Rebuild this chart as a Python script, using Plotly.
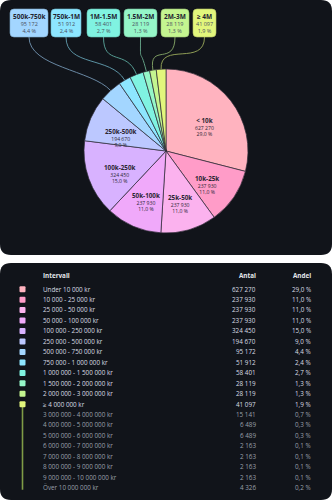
import math
import plotly.graph_objects as go

W, H = 332, 500

# ---------------- data ----------------
slice_labels = ["&lt; 10k", "10k-25k", "25k-50k", "50k-100k", "100k-250k", "250k-500k",
                "500k-750k", "750k-1M", "1M-1.5M", "1.5M-2M", "2M-3M", "≥ 4M"]
slice_values = [627270, 237930, 237930, 237930, 324450, 194670,
                95172, 51912, 58401, 28119, 28119, 41097]
slice_colors = ["#ffb3bf", "#ff9cc8", "#fbb2ee", "#f0a9fa", "#d8b2ff", "#bcc8ff",
                "#a3d6ff", "#8de6ff", "#80f3e1", "#95f6c8", "#c4f590", "#e2f67c"]
# slices labelled inside the pie vs. in call-out boxes
inside_count = 6

table_intervals = ["Under 10 000 kr", "10 000 - 25 000 kr", "25 000 - 50 000 kr",
                   "50 000 - 100 000 kr", "100 000 - 250 000 kr", "250 000 - 500 000 kr",
                   "500 000 - 750 000 kr", "750 000 - 1 000 000 kr", "1 000 000 - 1 500 000 kr",
                   "1 500 000 - 2 000 000 kr", "2 000 000 - 3 000 000 kr", "≥ 4 000 000 kr",
                   "3 000 000 - 4 000 000 kr", "4 000 000 - 5 000 000 kr", "5 000 000 - 6 000 000 kr",
                   "6 000 000 - 7 000 000 kr", "7 000 000 - 8 000 000 kr", "8 000 000 - 9 000 000 kr",
                   "9 000 000 - 10 000 000 kr", "Över 10 000 000 kr"]
table_counts = [627270, 237930, 237930, 237930, 324450, 194670, 95172, 51912, 58401,
                28119, 28119, 41097, 15141, 6489, 6489, 2163, 2163, 2163, 2163, 4326]
table_shares = [29.0, 11.0, 11.0, 11.0, 15.0, 9.0, 4.4, 2.4, 2.7, 1.3, 1.3, 1.9,
                0.7, 0.3, 0.3, 0.1, 0.1, 0.1, 0.1, 0.2]
table_headers = ["Intervall", "Antal", "Andel"]
sub_start = 12  # rows from here on are sub-rows of "≥ 4 000 000 kr"

# ---------------- helpers ----------------
FONT = "Open Sans"


def px(x):
    return x / W


def py(y):
    return 1 - y / H


def fmt_int(v):
    return f"{v:,}".replace(",", " ")


def fmt_pct(p):
    return f"{p:.1f}".replace(".", ",") + " %"


def rrect(x0, y0, x1, y1, r):
    pts = [
        f"M {px(x0 + r)},{py(y0)}",
        f"L {px(x1 - r)},{py(y0)}",
        f"Q {px(x1)},{py(y0)} {px(x1)},{py(y0 + r)}",
        f"L {px(x1)},{py(y1 - r)}",
        f"Q {px(x1)},{py(y1)} {px(x1 - r)},{py(y1)}",
        f"L {px(x0 + r)},{py(y1)}",
        f"Q {px(x0)},{py(y1)} {px(x0)},{py(y1 - r)}",
        f"L {px(x0)},{py(y0 + r)}",
        f"Q {px(x0)},{py(y0)} {px(x0 + r)},{py(y0)}",
        "Z",
    ]
    return " ".join(pts)


def mix(hex_color, bg, a):
    c = [int(hex_color[i:i + 2], 16) for i in (1, 3, 5)]
    b = [int(bg[i:i + 2], 16) for i in (1, 3, 5)]
    m = [round(a * c[k] + (1 - a) * b[k]) for k in range(3)]
    return "#%02x%02x%02x" % tuple(m)


CARD = "#11141a"
total = sum(slice_values)

# ---------------- pie ----------------
cx, cy, R = 166, 151, 82

fig = go.Figure()
fig.add_trace(go.Pie(
    labels=slice_labels, values=slice_values, textinfo="none",
    marker=dict(colors=slice_colors, line=dict(color="#2e2b36", width=0.7)),
    sort=False, direction="clockwise", rotation=0, hoverinfo="skip",
    showlegend=False,
    domain=dict(x=[px(cx - R), px(cx + R)], y=[py(cy + R), py(cy - R)]),
))

shapes = []
annotations = []

# cards
shapes.append(dict(type="path", path=rrect(0, 0, W, 255, 11), xref="paper", yref="paper",
                   fillcolor=CARD, line=dict(width=0), layer="below"))
shapes.append(dict(type="path", path=rrect(0, 263, W, H, 11), xref="paper", yref="paper",
                   fillcolor=CARD, line=dict(width=0), layer="below"))

cum = 0
starts = []
for v in slice_values:
    starts.append(cum)
    cum += v


def mid_angle(i):
    return 2 * math.pi * (starts[i] + slice_values[i] / 2) / total


def block(lab, v, big, sub_color=None):
    st = f" style='color:{sub_color}'" if sub_color else ""
    return (f"<b><span style='font-size:{big}px'>{lab}</span></b><br>"
            f"<span{st}>{fmt_int(v)}</span><br><span{st}>{fmt_pct(100 * v / total)}</span>")


# labels inside the pie
for i in range(inside_count):
    a = mid_angle(i)
    lx = cx + 0.6 * R * math.sin(a)
    ly = cy - 0.6 * R * math.cos(a)
    annotations.append(dict(x=px(lx), y=py(ly + 5.6), xref="paper", yref="paper", showarrow=False,
                            text=block(slice_labels[i], slice_values[i], 6.3), xanchor="center",
                            yanchor="middle", align="center", borderpad=0,
                            font=dict(family=FONT, size=5.1, color="#2b2633")))

# call-out boxes
box_lefts = [10, 51, 87, 124, 161, 193]
box_widths = [38, 30, 33, 33, 28, 23]
box_top, box_bot = 9, 37
for k in range(len(slice_values) - inside_count):
    i = inside_count + k
    x0 = box_lefts[k]
    x1 = x0 + box_widths[k]
    bx = (x0 + x1) / 2
    col = slice_colors[i]
    a = mid_angle(i)
    ex = cx + R * math.sin(a)
    ey = cy - R * math.cos(a)
    ox, oy = math.sin(a), -math.cos(a)
    path = (f"M {px(bx)},{py(box_bot)} C {px(bx)},{py(box_bot + 30)} "
            f"{px(ex + ox * 28)},{py(ey + oy * 28)} {px(ex)},{py(ey)}")
    shapes.append(dict(type="path", path=path, xref="paper", yref="paper",
                       line=dict(color=mix(col, CARD, 0.6), width=1)))
    shapes.append(dict(type="path", path=rrect(x0, box_top, x1, box_bot, 4), xref="paper",
                       yref="paper", fillcolor=col, line=dict(color=mix(col, "#000000", 0.8), width=0.6)))
    annotations.append(dict(x=px(bx), y=py(23.3), xref="paper", yref="paper", showarrow=False,
                            text=block(slice_labels[i], slice_values[i], 6.5, "#4a5060"),
                            xanchor="center", yanchor="middle", align="center", borderpad=0,
                            font=dict(family=FONT, size=5.5, color="#1f2430")))

# ---------------- table ----------------
hdr_y = 275
row0, row_h = 289, 10.46
col_x = [42, 257, 312]
hdr_col = "#e4e7ec"
for j, h in enumerate(table_headers):
    annotations.append(dict(x=px(col_x[j]), y=py(hdr_y), xref="paper", yref="paper", showarrow=False,
                            text=f"<b>{h}</b>", xanchor="left" if j == 0 else "right", yanchor="middle",
                            borderpad=0, font=dict(family=FONT, size=6.3, color=hdr_col)))

for r, (name, cnt, sh) in enumerate(zip(table_intervals, table_counts, table_shares)):
    y = row0 + r * row_h
    sub = r >= sub_start
    colr = "#9aa0aa" if sub else "#d9dde3"
    for j, t in enumerate([name, fmt_int(cnt), fmt_pct(sh)]):
        annotations.append(dict(x=px(col_x[j]), y=py(y), xref="paper", yref="paper", showarrow=False,
                                text=t, xanchor="left" if j == 0 else "right", yanchor="middle",
                                borderpad=0, font=dict(family=FONT, size=6.3, color=colr)))
    if not sub:
        c = slice_colors[r]
        shapes.append(dict(type="path", path=rrect(19.5, y - 2.8, 25.5, y + 3.2, 1), xref="paper",
                           yref="paper", fillcolor=c, line=dict(width=0)))

# vertical connector for sub-rows
y_top = row0 + (sub_start - 1) * row_h
y_end = row0 + (len(table_intervals) - 1) * row_h + 2
shapes.insert(2, dict(type="line", x0=px(22.5), x1=px(22.5), y0=py(y_top), y1=py(y_end),
                      xref="paper", yref="paper", line=dict(color="#7f9c46", width=1.6)))

fig.update_layout(
    width=W, height=H, margin=dict(l=0, r=0, t=0, b=0),
    paper_bgcolor="#ffffff", plot_bgcolor="#ffffff",
    shapes=shapes, annotations=annotations, showlegend=False,
    font=dict(family=FONT),
)
fig.write_html("out.html", config={"displayModeBar": False})
